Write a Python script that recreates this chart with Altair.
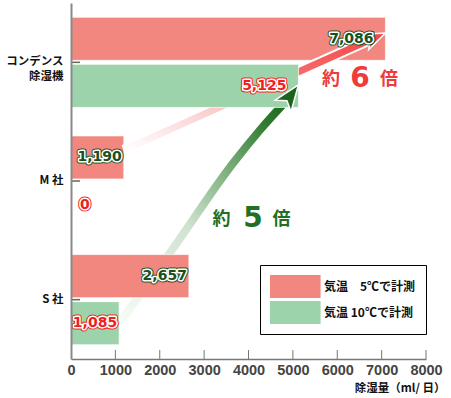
import altair as alt
import pandas as pd

# ---------------- data ----------------
categories = ["コンデンス除湿機", "M 社", "S 社"]
series = ["気温\u30005℃で計測", "気温 10℃で計測"]
values_5c = [7086, 1190, 2657]
values_10c = [5125, 0, 1085]
x_tick_values = [0, 1000, 2000, 3000, 4000, 5000, 6000, 7000, 8000]

# Arrows and ratio callouts: x in ml/日, row in category units (0 = top edge, 3 = bottom edge)
pink_arrow_x = [1190, 6797]
pink_arrow_row = [1.24, 0.30]
pink_head_x = [7086]
pink_head_row = [0.253]
green_arrow_x = [1085, 2276, 3651, 4259, 4912]
green_arrow_row = [2.70, 2.08, 1.35, 1.07, 0.80]
green_head_x = [5125]
green_head_row = [0.69]

ratio_text = ["約", "6", "倍", "約", "5", "倍"]
ratio_x = [5859, 6513, 7166, 3392, 4101, 4744]
ratio_row = [0.708, 0.708, 0.708, 1.888, 1.888, 1.888]
ratio_tone = ["red", "red", "red", "green", "green", "green"]

# ---------------- styling ----------------
W, H = 355, 356
BAR_RED = "#F2877F"
BAR_GREEN = "#9DD3AA"
LABEL_GREEN = "#1D4F1D"
LABEL_RED = "#F01E1E"
RATIO_RED = "#EE3B3B"
RATIO_GREEN = "#237023"
ARROW_PATH = "M0,0L-0.75,2L0,1.5L0.75,2Z"
# wide legend swatch: anchored at the left of a 23px symbol slot, 51px wide
RECT_PATH = "M-1,-1H3.4V1H-1Z"
JP_FONT = "Noto Sans CJK JP"

bars = pd.DataFrame({
    "category": categories * 2,
    "series": [series[0]] * 3 + [series[1]] * 3,
    "value": values_5c + values_10c,
})
pink_df = pd.DataFrame({"x": pink_arrow_x, "row": pink_arrow_row})
pink_head_df = pd.DataFrame({"x": pink_head_x, "row": pink_head_row})
green_df = pd.DataFrame({"x": green_arrow_x, "row": green_arrow_row})
green_head_df = pd.DataFrame({"x": green_head_x, "row": green_head_row})
ratio_df = pd.DataFrame({
    "text": ratio_text, "x": ratio_x, "row": ratio_row, "tone": ratio_tone,
    "kind": ["digit" if t.isdigit() else "cjk" for t in ratio_text],
})
tick_df = pd.DataFrame({"tick": x_tick_values[1:]})
cat_df = pd.DataFrame({"category": categories})

X_SCALE = alt.Scale(domain=[0, 8000], nice=False)
X_AXIS = alt.Axis(
    values=x_tick_values, format="d", ticks=False, tickSize=0, grid=False,
    labelFlush=False, labelFont="Liberation Sans", labelFontWeight="bold",
    labelFontSize=14.5, labelColor="#444444", labelPadding=4,
    domainColor="#777777", domainWidth=1.5,
    title="除湿量（ml/ 日）", titleFont=JP_FONT, titleFontWeight="bold",
    titleFontSize=11.5, titleColor="#111111", titleAlign="right",
    titleBaseline="middle", titleX=374, titleY=29, zindex=1,
)
Y_AXIS = alt.Axis(
    orient="left", title=None, ticks=False, tickSize=0, grid=False,
    labelExpr="datum.value == '%s' ? ['コンデンス', '除湿機\u3000'] : datum.value" % categories[0],
    labelFont=JP_FONT, labelFontWeight="bold", labelFontSize=11.5,
    labelColor="#111111", labelPadding=8, labelLineHeight=14.5,
    labelAlign="right", labelBaseline="middle",
    domainColor="#8a8a8a", domainWidth=2, zindex=1,
)
Y_BAND_SCALE = alt.Scale(domain=categories, paddingInner=0.24, paddingOuter=0.12)
ROW_SCALE = alt.Scale(domain=[0, 3], reverse=True, nice=False, zero=False)
YOFF = alt.YOffset("series:N", scale=alt.Scale(domain=series, paddingInner=0.085, paddingOuter=0))

LEGEND = alt.Legend(
    title=None, orient="none", legendX=189, legendY=262, padding=10,
    strokeColor="black", fillColor="white", cornerRadius=0,
    symbolType=RECT_PATH, symbolSize=529, symbolStrokeWidth=0, symbolOpacity=1,
    labelFont=JP_FONT, labelFontWeight="bold", labelFontSize=12,
    labelColor="#111111", labelOffset=31, rowPadding=3,
)
COLOR = alt.Color("series:N", scale=alt.Scale(domain=series, range=[BAR_RED, BAR_GREEN]), legend=LEGEND)


def xq(field):
    return alt.X(f"{field}:Q", scale=X_SCALE, axis=X_AXIS)


def yb(axis=None):
    return alt.Y("category:N", scale=Y_BAND_SCALE, axis=axis)


def yr():
    return alt.Y("row:Q", scale=ROW_SCALE, axis=None)


def grad(stops):
    return alt.LinearGradient(
        gradient="linear", x1=0, y1=1, x2=1, y2=0,
        stops=[alt.GradientStop(color=c, offset=o) for o, c in stops],
    )


layers = []

# green "約5倍" arrow body (sits beneath the red bars)
layers.append(alt.Chart(green_df).mark_line(
    stroke="white", strokeWidth=12, strokeCap="butt", interpolate="monotone"
).encode(x=xq("x"), y=yr()))
layers.append(alt.Chart(green_df).mark_line(
    stroke=grad([(0, "#f8fbf8"), (0.42, "#cfe2cf"), (0.72, "#68a268"), (0.88, "#2e7a2e"), (1, "#1c641c")]),
    strokeWidth=8, strokeCap="butt", interpolate="monotone",
).encode(x=xq("x"), y=yr()))

# 5℃ bars
layers.append(alt.Chart(bars).transform_filter(alt.datum.series == series[0]).mark_bar(
    stroke="white", strokeWidth=1, strokeOpacity=0.7
).encode(x=xq("value"), y=yb(Y_AXIS), yOffset=YOFF, color=COLOR))

# pink "約6倍" arrow
layers.append(alt.Chart(pink_df).mark_line(
    stroke="white", strokeWidth=11, strokeCap="butt"
).encode(x=xq("x"), y=yr()))
layers.append(alt.Chart(pink_df).mark_line(
    stroke=grad([(0, "#ffffff"), (0.43, "#f9c4c4"), (0.7, "#f76a6a"), (1, "#f44848")]),
    strokeWidth=7, strokeCap="butt",
).encode(x=xq("x"), y=yr()))
layers.append(alt.Chart(pink_head_df).mark_point(
    shape=ARROW_PATH, filled=True, size=484, angle=66, fill="#f44848",
    stroke="white", strokeWidth=1.5, opacity=1,
).encode(x=xq("x"), y=yr()))

# 10℃ bars
layers.append(alt.Chart(bars).transform_filter(alt.datum.series == series[1]).mark_bar(
    stroke="white", strokeWidth=1, strokeOpacity=0.7
).encode(x=xq("value"), y=yb(), yOffset=YOFF, color=COLOR))

# green arrowhead on top of the bars
layers.append(alt.Chart(green_head_df).mark_point(
    shape=ARROW_PATH, filled=True, size=676, angle=36, fill="#1c641c",
    stroke="white", strokeWidth=1.5, opacity=1,
).encode(x=xq("x"), y=yr()))

# inward axis ticks
layers.append(alt.Chart(tick_df).mark_rule(color="#777777", strokeWidth=1).encode(
    x=xq("tick"), y=alt.value(H - 9), y2=alt.value(H)))
layers.append(alt.Chart(cat_df).mark_rule(color="#666666", strokeWidth=1.5).encode(
    y=yb(), x=alt.value(0), x2=alt.value(9)))

# value labels: dark rim, white ring, coloured fill
tone = alt.condition(alt.datum.series == series[0], alt.value(LABEL_GREEN), alt.value(LABEL_RED))
label_groups = [
    (alt.datum.category == categories[0], "right", -12),
    ((alt.datum.category != categories[0]) & (alt.datum.value != 0), "right", -2),
    (alt.datum.value == 0, "left", 9),
]
for pass_no in range(3):
    for pred, al, dx in label_groups:
        base = alt.Chart(bars).transform_filter(pred)
        kw = dict(font="DejaVu Sans", fontWeight="bold", fontSize=14, align=al,
                  baseline="middle", dx=dx, strokeJoin="round")
        enc = dict(x=xq("value"), y=yb(), yOffset=YOFF, text=alt.Text("value:Q", format=","))
        if pass_no == 0:
            layers.append(base.mark_text(strokeWidth=5, **kw).encode(color=tone, stroke=tone, **enc))
        elif pass_no == 1:
            layers.append(base.mark_text(fill="white", stroke="white", strokeWidth=3, **kw).encode(**enc))
        else:
            layers.append(base.mark_text(**kw).encode(color=tone, **enc))

# ratio callouts
ratio_color = alt.condition(alt.datum.tone == "red", alt.value(RATIO_RED), alt.value(RATIO_GREEN))
layers.append(alt.Chart(ratio_df).transform_filter(alt.datum.kind == "cjk").mark_text(
    font=JP_FONT, fontWeight="bold", fontSize=18, align="center", baseline="alphabetic", dy=-2
).encode(x=xq("x"), y=yr(), text="text:N", color=ratio_color))
layers.append(alt.Chart(ratio_df).transform_filter(alt.datum.kind == "digit").mark_text(
    font="DejaVu Sans", fontWeight="bold", fontSize=28, align="center", baseline="alphabetic"
).encode(x=xq("x"), y=yr(), text="text:N", color=ratio_color))

chart = alt.layer(*layers).resolve_scale(y="independent").properties(
    width=W, height=H,
    padding={"left": 71, "top": 3, "right": 25, "bottom": 39},
    autosize=alt.AutoSizeParams(type="none"),
    background="white",
).configure_view(stroke=None).configure_legend(strokeWidth=1)

chart.save("out.html", embed_options={"renderer": "svg", "actions": False})
